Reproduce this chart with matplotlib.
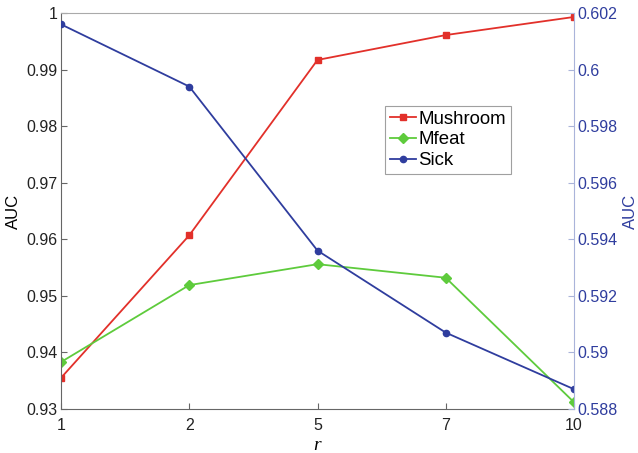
import matplotlib
matplotlib.use("Agg")
import matplotlib.pyplot as plt
import numpy as np

r_labels = ["1", "2", "5", "7", "10"]
mushroom = [0.9355, 0.9607, 0.9917, 0.9961, 0.9993]
mfeat = [0.9383, 0.9519, 0.9556, 0.9532, 0.9312]
sick = [0.6016, 0.5994, 0.5936, 0.5907, 0.5887]

plt.rcParams['font.family'] = ['Liberation Sans', 'DejaVu Sans']
red = '#e2302a'
green = '#5ecb3c'
blue = '#2f3d9e'
gray = '#666666'

fig = plt.figure(figsize=(6.38, 4.53), dpi=100)
ax = fig.add_axes([61/638, 44/453, 513/638, 396/453])
x = np.arange(len(r_labels))
l1, = ax.plot(x, mushroom, color=red, marker='s', markersize=5, lw=1.3, label='Mushroom')
l2, = ax.plot(x, mfeat, color=green, marker='D', markersize=5, lw=1.3, label='Mfeat')
ax.set_xlim(0, len(r_labels) - 1)
ax.set_ylim(0.93, 1.0)
ax.set_yticks(np.round(np.arange(0.93, 1.0001, 0.01), 2))
ax.set_yticklabels(['0.93', '0.94', '0.95', '0.96', '0.97', '0.98', '0.99', '1'])
ax.set_xticks(x)
ax.set_xticklabels(r_labels)
ax.tick_params(direction='in', length=4, labelsize=11.5, labelcolor='#222222', width=0.8,
               color=gray, pad=2.5)
ax.tick_params(axis='x', pad=6.5)
for s in ['left', 'bottom']:
    ax.spines[s].set_color(gray)
ax.spines['top'].set_color('#aaaaaa')
ax.spines['right'].set_visible(False)
ax.set_ylabel('AUC', fontsize=12, labelpad=4)
ax.set_xlabel('r', fontsize=14, family='Liberation Serif', style='italic', labelpad=3)

ax2 = ax.twinx()
l3, = ax2.plot(x, sick, color=blue, marker='o', markersize=4.5, lw=1.3, label='Sick')
ax2.set_ylim(0.588, 0.602)
ax2.set_yticks(np.round(np.arange(0.588, 0.6021, 0.002), 3))
ax2.set_yticklabels(['0.588', '0.59', '0.592', '0.594', '0.596', '0.598', '0.6', '0.602'])
ax2.tick_params(direction='in', length=4, labelsize=11.5, labelcolor=blue, color='#aab4da',
                width=0.8, pad=2.5)
for s in ['top', 'left', 'bottom']:
    ax2.spines[s].set_visible(False)
ax2.spines['right'].set_color('#aab4da')
ax2.set_ylabel('AUC', fontsize=12, color=blue, labelpad=4)

leg = ax2.legend(handles=[l1, l2, l3], loc='upper left', bbox_to_anchor=(324/513, 303/396),
                 fontsize=13.4, frameon=True, fancybox=False, edgecolor='#888888',
                 handlelength=1.4, handletextpad=0.15, borderpad=0.25, labelspacing=0.2,
                 borderaxespad=0)
leg.get_frame().set_linewidth(0.8)

fig.savefig('out.png', dpi=100)
